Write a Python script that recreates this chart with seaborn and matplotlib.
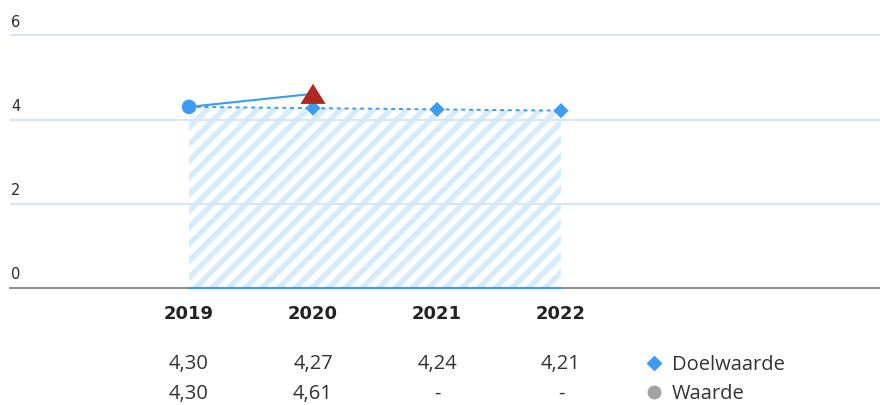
import matplotlib
matplotlib.use("Agg")
import matplotlib.pyplot as plt
import matplotlib.transforms as mtransforms
from matplotlib.lines import Line2D
import seaborn as sns
import pandas as pd

# ---- data ----
years = ["2019", "2020", "2021", "2022"]
doelwaarde = [4.30, 4.27, 4.24, 4.21]
waarde = [4.30, 4.61, None, None]
y_ticks = [0, 2, 4, 6]
series_names = ["Doelwaarde", "Waarde"]

def fmt(v):
    return "-" if v is None else f"{v:.2f}".replace(".", ",")

sns.set_theme(style="white")
plt.rcParams["font.family"] = ["DejaVu Sans"]
plt.rcParams["hatch.linewidth"] = 4.0

BLUE = "#3d9bf3"
LIGHT = "#d6ecfc"
RED = "#b1281c"
GRID = "#d8e6f3"

idx = list(range(len(years)))
df_doel = pd.DataFrame({"x": idx, "y": doelwaarde})
w_idx = [i for i, v in zip(idx, waarde) if v is not None]
w_val = [v for v in waarde if v is not None]
df_w = pd.DataFrame({"x": w_idx, "y": w_val})

fig = plt.figure(figsize=(8.8, 4.05), dpi=100)
ax = fig.add_axes([10 / 880, 117 / 405, 870 / 880, 278 / 405])
ax.set_xlim(-1.444, 5.573)
ax.set_ylim(0, 6.6)

# grid
for t in y_ticks[1:]:
    ax.axhline(t, color=GRID, lw=1.6, zorder=1.5)
for s in ["top", "right", "left"]:
    ax.spines[s].set_visible(False)
ax.spines["bottom"].set_color("#8c8c8c")
ax.spines["bottom"].set_linewidth(1.4)

# hatched area under target
ax.fill_between(idx, 0, doelwaarde, facecolor="white", edgecolor=LIGHT,
                hatch="//", linewidth=0, zorder=1)
ax.plot([idx[0], idx[-1]], [0, 0], color=BLUE, lw=1.6, zorder=3, clip_on=False)

# target line (dotted)
sns.lineplot(data=df_doel, x="x", y="y", ax=ax, color=BLUE, lw=1.4,
             linestyle=(0, (2, 2)), zorder=2)
# actual value line
sns.lineplot(data=df_w, x="x", y="y", ax=ax, color=BLUE, lw=1.5, zorder=2)

# target markers
sns.scatterplot(data=df_doel.iloc[1:], x="x", y="y", ax=ax, marker="D", s=60,
                color=BLUE, edgecolor="none", zorder=4)
# actual markers
sns.scatterplot(data=df_w.iloc[[0]], x="x", y="y", ax=ax, marker="o", s=110,
                color=BLUE, edgecolor="none", zorder=5)
tri = [(-1, -0.8), (1, -0.8), (0, 0.8)]
sns.scatterplot(data=df_w.iloc[[1]], x="x", y="y", ax=ax, marker=tri, s=330,
                color=RED, edgecolor="none", zorder=5)

ax.set_xlabel("")
ax.set_ylabel("")
ax.set_yticks([])
ax.set_xticks(idx)
ax.set_xticklabels(years, fontsize=13, fontweight="bold", color="#222222")
ax.tick_params(axis="x", length=0, pad=12)

# y labels above grid lines
ytrans = mtransforms.blended_transform_factory(ax.transAxes, ax.transData)
for t in y_ticks:
    ax.text(0.001, t + 0.31, str(t), transform=ytrans, ha="left", va="center",
            fontsize=10.5, color="#2a2a2a")

# value table
ttrans = mtransforms.blended_transform_factory(ax.transData, fig.transFigure)
rows = [doelwaarde, waarde]
row_y = [(405 - 364) / 405, (405 - 394) / 405]
for r, ry in zip(rows, row_y):
    for i, v in zip(idx, r):
        ax.text(i, ry, fmt(v), transform=ttrans, ha="center", va="center",
                fontsize=14.5, color="#333333", family="Open Sans")

handles = [
    Line2D([], [], marker="D", color=BLUE, ls="none", ms=7.5),
    Line2D([], [], marker="o", color="#a3a3a3", ls="none", ms=9),
]
fig.legend(handles, series_names, loc="center left",
           bbox_to_anchor=(644 / 880, (405 - 379.5) / 405), frameon=False,
           prop={"family": "Open Sans", "size": 14.5}, handlelength=1.0,
           handletextpad=0.4, borderpad=0, borderaxespad=0, labelspacing=0.45,
           labelcolor="#333333")

fig.savefig("out.png", dpi=100)
